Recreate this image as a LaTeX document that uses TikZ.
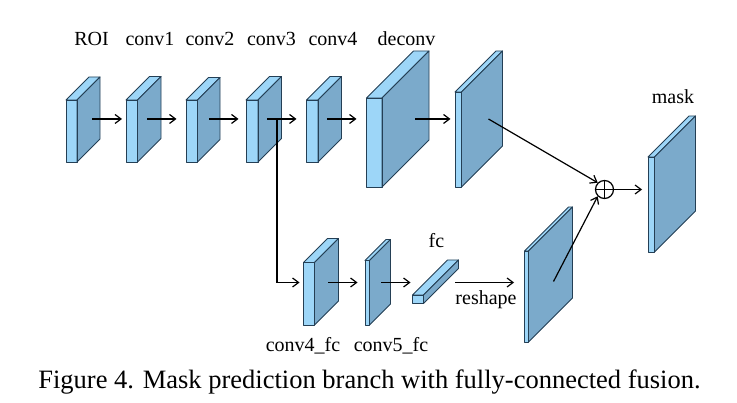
\documentclass[tikz,border=0pt]{standalone}
\usepackage{fontspec}
\setmainfont{Liberation Serif}
\usetikzlibrary{arrows.meta,calc}
\definecolor{lightface}{HTML}{9DD6F8}
\definecolor{darkface}{HTML}{7BAACB}
\definecolor{edgec}{HTML}{243F55}
\tikzset{
  face/.style={draw=edgec,line width=0.9pt,line join=round},
  lbl/.style={font=\fontsize{20}{20}\selectfont,inner sep=0pt,anchor=base},
  arr/.style={draw=black,line width=1.2pt,-{Straight Barb[length=6pt,width=9pt,line width=1.2pt]}},
}
% \cubeblk{name}{x0}{y0}{x1}{y1}{d}
\newcommand{\cubeblk}[6]{%
  \fill[lightface] (#2,#3) rectangle (#4,#5);
  \filldraw[face,fill=lightface] (#2,#3) -- (#4,#3) -- ($(#4,#3)+(#6,-#6)$) -- ($(#2,#3)+(#6,-#6)$) -- cycle;
  \filldraw[face,fill=darkface] (#4,#3) -- ($(#4,#3)+(#6,-#6)$) -- ($(#4,#5)+(#6,-#6)$) -- (#4,#5) -- cycle;
  \draw[face] (#2,#3) rectangle (#4,#5);
  \coordinate (#1-f) at (#2,{(#3+#5)/2});
}
\begin{document}
\begin{tikzpicture}[x=1pt,y=-1pt]
\useasboundingbox (0,0) rectangle (737,403);
% main row
\cubeblk{roi}{66}{100}{77}{162}{23}
\cubeblk{c1}{126}{100}{137.5}{162}{23.5}
\cubeblk{c2}{186}{100}{197.5}{162}{22.5}
\cubeblk{c3}{246}{100}{258}{162}{23.5}
\cubeblk{c4}{306.5}{100}{318}{162}{23.5}
\cubeblk{dc}{366.5}{98}{382}{187}{47}
\cubeblk{up}{455}{92}{461.5}{187}{41}
\cubeblk{mk}{648}{157}{654.5}{252}{41}
% lower row
\cubeblk{c4f}{303.5}{262.5}{314.5}{325}{24}
\cubeblk{c5f}{365}{260.5}{369.5}{325}{21}
\cubeblk{fcb}{412.5}{295}{423.5}{303.5}{35}
\cubeblk{rs}{524.5}{251}{528.5}{342}{44}

% labels
\node[lbl] (tROI) at (91.5,46) {ROI};
\node[lbl] (t1) at (150,46) {conv1};
\node[lbl] (t2) at (210,46) {conv2};
\node[lbl] (t3) at (271.5,46) {conv3};
\node[lbl] (t4) at (333,46) {conv4};
\node[lbl] (td) at (406.5,46) {deconv};
\node[lbl] (tm) at (673,104) {mask};
\node[lbl] (tfc) at (436.5,247.5) {fc};
\node[lbl] (trs) at (486,305) {reshape};
\node[lbl] (t4f) at (303,351.5) {conv4\_fc};
\node[lbl] (t5f) at (391,351.5) {conv5\_fc};
\node[inner sep=0pt,anchor=base,font=\fontsize{26.5}{26.5}\selectfont] (cap) at (369.5,388.5) {Figure 4. Mask prediction branch with fully-connected fusion.};

% arrow coordinates
\coordinate (a0s) at (92,119); \coordinate (a0e) at (122,119);
\coordinate (a1s) at (147,119); \coordinate (a1e) at (176.5,119);
\coordinate (a2s) at (209,119); \coordinate (a2e) at (238.5,119);
\coordinate (a3s) at (267,119); \coordinate (a3e) at (296.5,119);
\coordinate (a4s) at (327,119); \coordinate (a4e) at (356.5,119);
\coordinate (a5s) at (415,119); \coordinate (a5e) at (450.5,119);
\coordinate (br) at (277,119); \coordinate (bc) at (277,282.5); \coordinate (be) at (299.5,282.5);
\coordinate (l1s) at (328,282.5); \coordinate (l1e) at (357.5,282.5);
\coordinate (l2s) at (381,282.5); \coordinate (l2e) at (410.5,282.5);
\coordinate (l3s) at (455,282.5); \coordinate (l3e) at (514,282.5);
\coordinate (us) at (488.5,119);
\coordinate (rsS) at (553.5,281.5);
\coordinate (me) at (642,189.5);

\node[circle,draw=black,line width=1.2pt,minimum size=18pt,inner sep=0pt] (plus) at (604.5,189.5) {};
\draw[line width=1.2pt] (plus.north) -- (plus.south) (plus.west) -- (plus.east);

\draw[arr] (a0s) -- (a0e);
\draw[arr] (a1s) -- (a1e);
\draw[arr] (a2s) -- (a2e);
\draw[arr] (a3s) -- (a3e);
\draw[arr] (a4s) -- (a4e);
\draw[arr] (a5s) -- (a5e);
\draw[arr] (br) -- (bc) -- (be);
\draw[arr] (l1s) -- (l1e);
\draw[arr] (l2s) -- (l2e);
\draw[arr] (l3s) -- (l3e);
\draw[arr] (us) -- (plus.north west);
\draw[arr] (rsS) -- (plus.south west);
\draw[arr] (plus.east) -- (me);
\end{tikzpicture}
\end{document}
